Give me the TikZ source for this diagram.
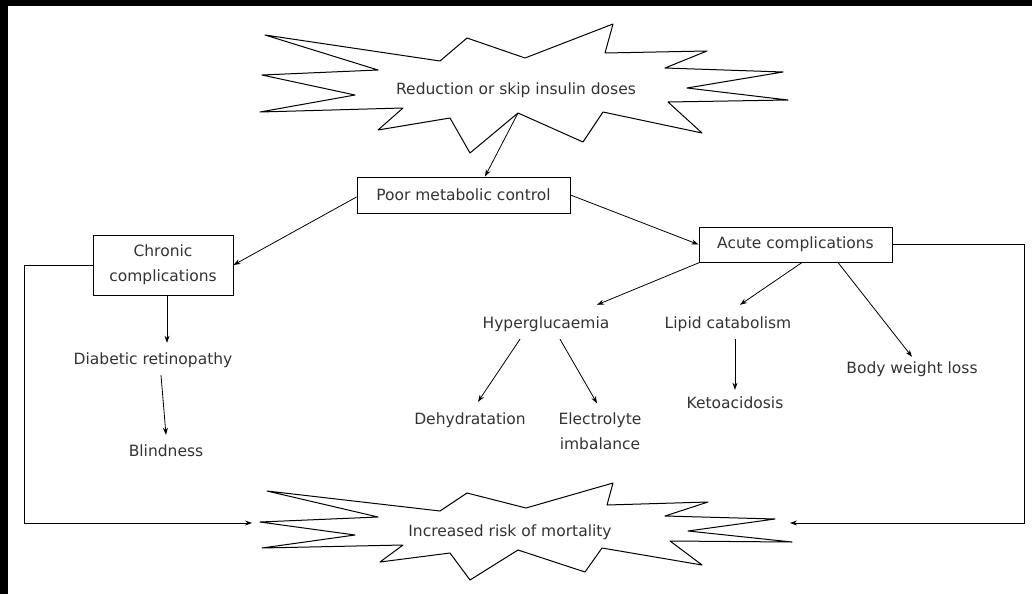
\documentclass[tikz,border=0pt]{standalone}
\usepackage{fontspec}
\setmainfont{DejaVu Sans}
\usetikzlibrary{arrows.meta}
\begin{document}
\begin{tikzpicture}[x=1pt,y=-1pt,
  lbl/.style={font=\fontsize{15.5}{25}\selectfont, text=black!80, inner sep=0pt, text height=12pt, text depth=4pt},
  mlbl/.style={font=\fontsize{15.5}{25}\selectfont, text=black!80, inner sep=0pt, align=center},
  box/.style={draw, line width=1pt, font=\fontsize{15.5}{25}\selectfont, text=black!80, align=center, inner sep=0pt},
  arr/.style={-{Stealth[length=7pt,width=5pt]}, line width=0.8pt},
  burst/.style={draw, line width=1pt, line join=round}
]
\useasboundingbox (0,0) rectangle (1032,594);
\fill[white] (0,0) rectangle (1032,594);
\fill[black] (0,0) rectangle (1032,6);
\fill[black] (0,0) rectangle (8,594);

% top starburst
\draw[burst] (265,35) -- (440,61) -- (467,38) -- (525,58) -- (613,24) -- (605,53) -- (707,51) -- (665,68) -- (783,72) -- (687,88) -- (788,100) -- (668,102) -- (702,133) -- (603,112) -- (583,142) -- (518,113) -- (470,153) -- (450,118) -- (378,130) -- (403,108) -- (260,112) -- (355,95) -- (262,75) -- (378,70) -- cycle;
\node[lbl] (reduce) at (516,90) {Reduction or skip insulin doses};
\coordinate (s1) at (518,113);

% bottom starburst
\draw[burst] (267,491) -- (440,511) -- (467,493) -- (526,508) -- (613,483) -- (607,505) -- (708,502) -- (665,516) -- (775,519) -- (688,531) -- (792,542) -- (670,541) -- (702,565) -- (602,548) -- (585,572) -- (518,550) -- (470,580) -- (450,553) -- (380,562) -- (403,545) -- (262,548) -- (355,535) -- (260,522) -- (378,517) -- cycle;
\node[lbl] (mort) at (510,532) {Increased risk of mortality};

% boxes
\node[box, minimum width=213pt, minimum height=36pt] (poor) at (463.5,195) {Poor metabolic control};
\node[box, minimum width=140pt, minimum height=60pt] (chronic) at (163,265) {Chronic\\complications};
\node[box, minimum width=193pt, minimum height=35pt] (acute) at (795.5,244.5) {Acute complications};

% text nodes
\node[lbl] (diab) at (153,360) {Diabetic retinopathy};
\node[lbl] (blind) at (166,452) {Blindness};
\node[lbl] (hyper) at (546,324) {Hyperglucaemia};
\node[lbl] (lipid) at (728,324) {Lipid catabolism};
\node[lbl] (dehyd) at (470,420) {Dehydratation};
\node[mlbl] (elec) at (600,431) {Electrolyte\\imbalance};
\node[lbl] (keto) at (735,404) {Ketoacidosis};
\node[lbl] (body) at (912,369) {Body weight loss};

% connectors
\draw[arr] (s1) -- ([xshift=21.5pt]poor.north);
\draw[arr] ([yshift=-2pt]poor.west) -- (chronic.east);
\draw[arr] (poor.east) -- (acute.west);
\draw[arr] ([xshift=4pt]chronic.south) -- ([xshift=14pt,yshift=9pt]diab.north);
\draw[arr] ([xshift=8pt,yshift=-7pt]diab.south) -- ([xshift=0pt,yshift=9pt]blind.north);
\draw[arr] ([xshift=6.5pt]acute.south) -- ([xshift=12pt,yshift=11pt]lipid.north);
\draw[arr] ([xshift=1pt]acute.south west) -- ([xshift=51pt,yshift=11pt]hyper.north);
\draw[arr] ([xshift=42.5pt]acute.south) -- ([yshift=4pt]body.north);
\draw[arr] ([xshift=7pt,yshift=-7pt]lipid.south) -- ([yshift=6pt]keto.north);
\draw[arr] ([xshift=-26pt,yshift=-7pt]hyper.south) -- ([xshift=8pt,yshift=10pt]dehyd.north);
\draw[arr] ([xshift=14pt,yshift=-7pt]hyper.south) -- ([xshift=-3pt,yshift=9pt]elec.north);

\coordinate (lc) at (24,523);
\coordinate (bl) at (252,523);
\coordinate (rc) at (1024,523);
\coordinate (br) at (790,523);
\draw[arr] (chronic.west) -| (lc) -- (bl);
\draw[arr] (acute.east) -| (rc) -- (br);
\end{tikzpicture}
\end{document}
